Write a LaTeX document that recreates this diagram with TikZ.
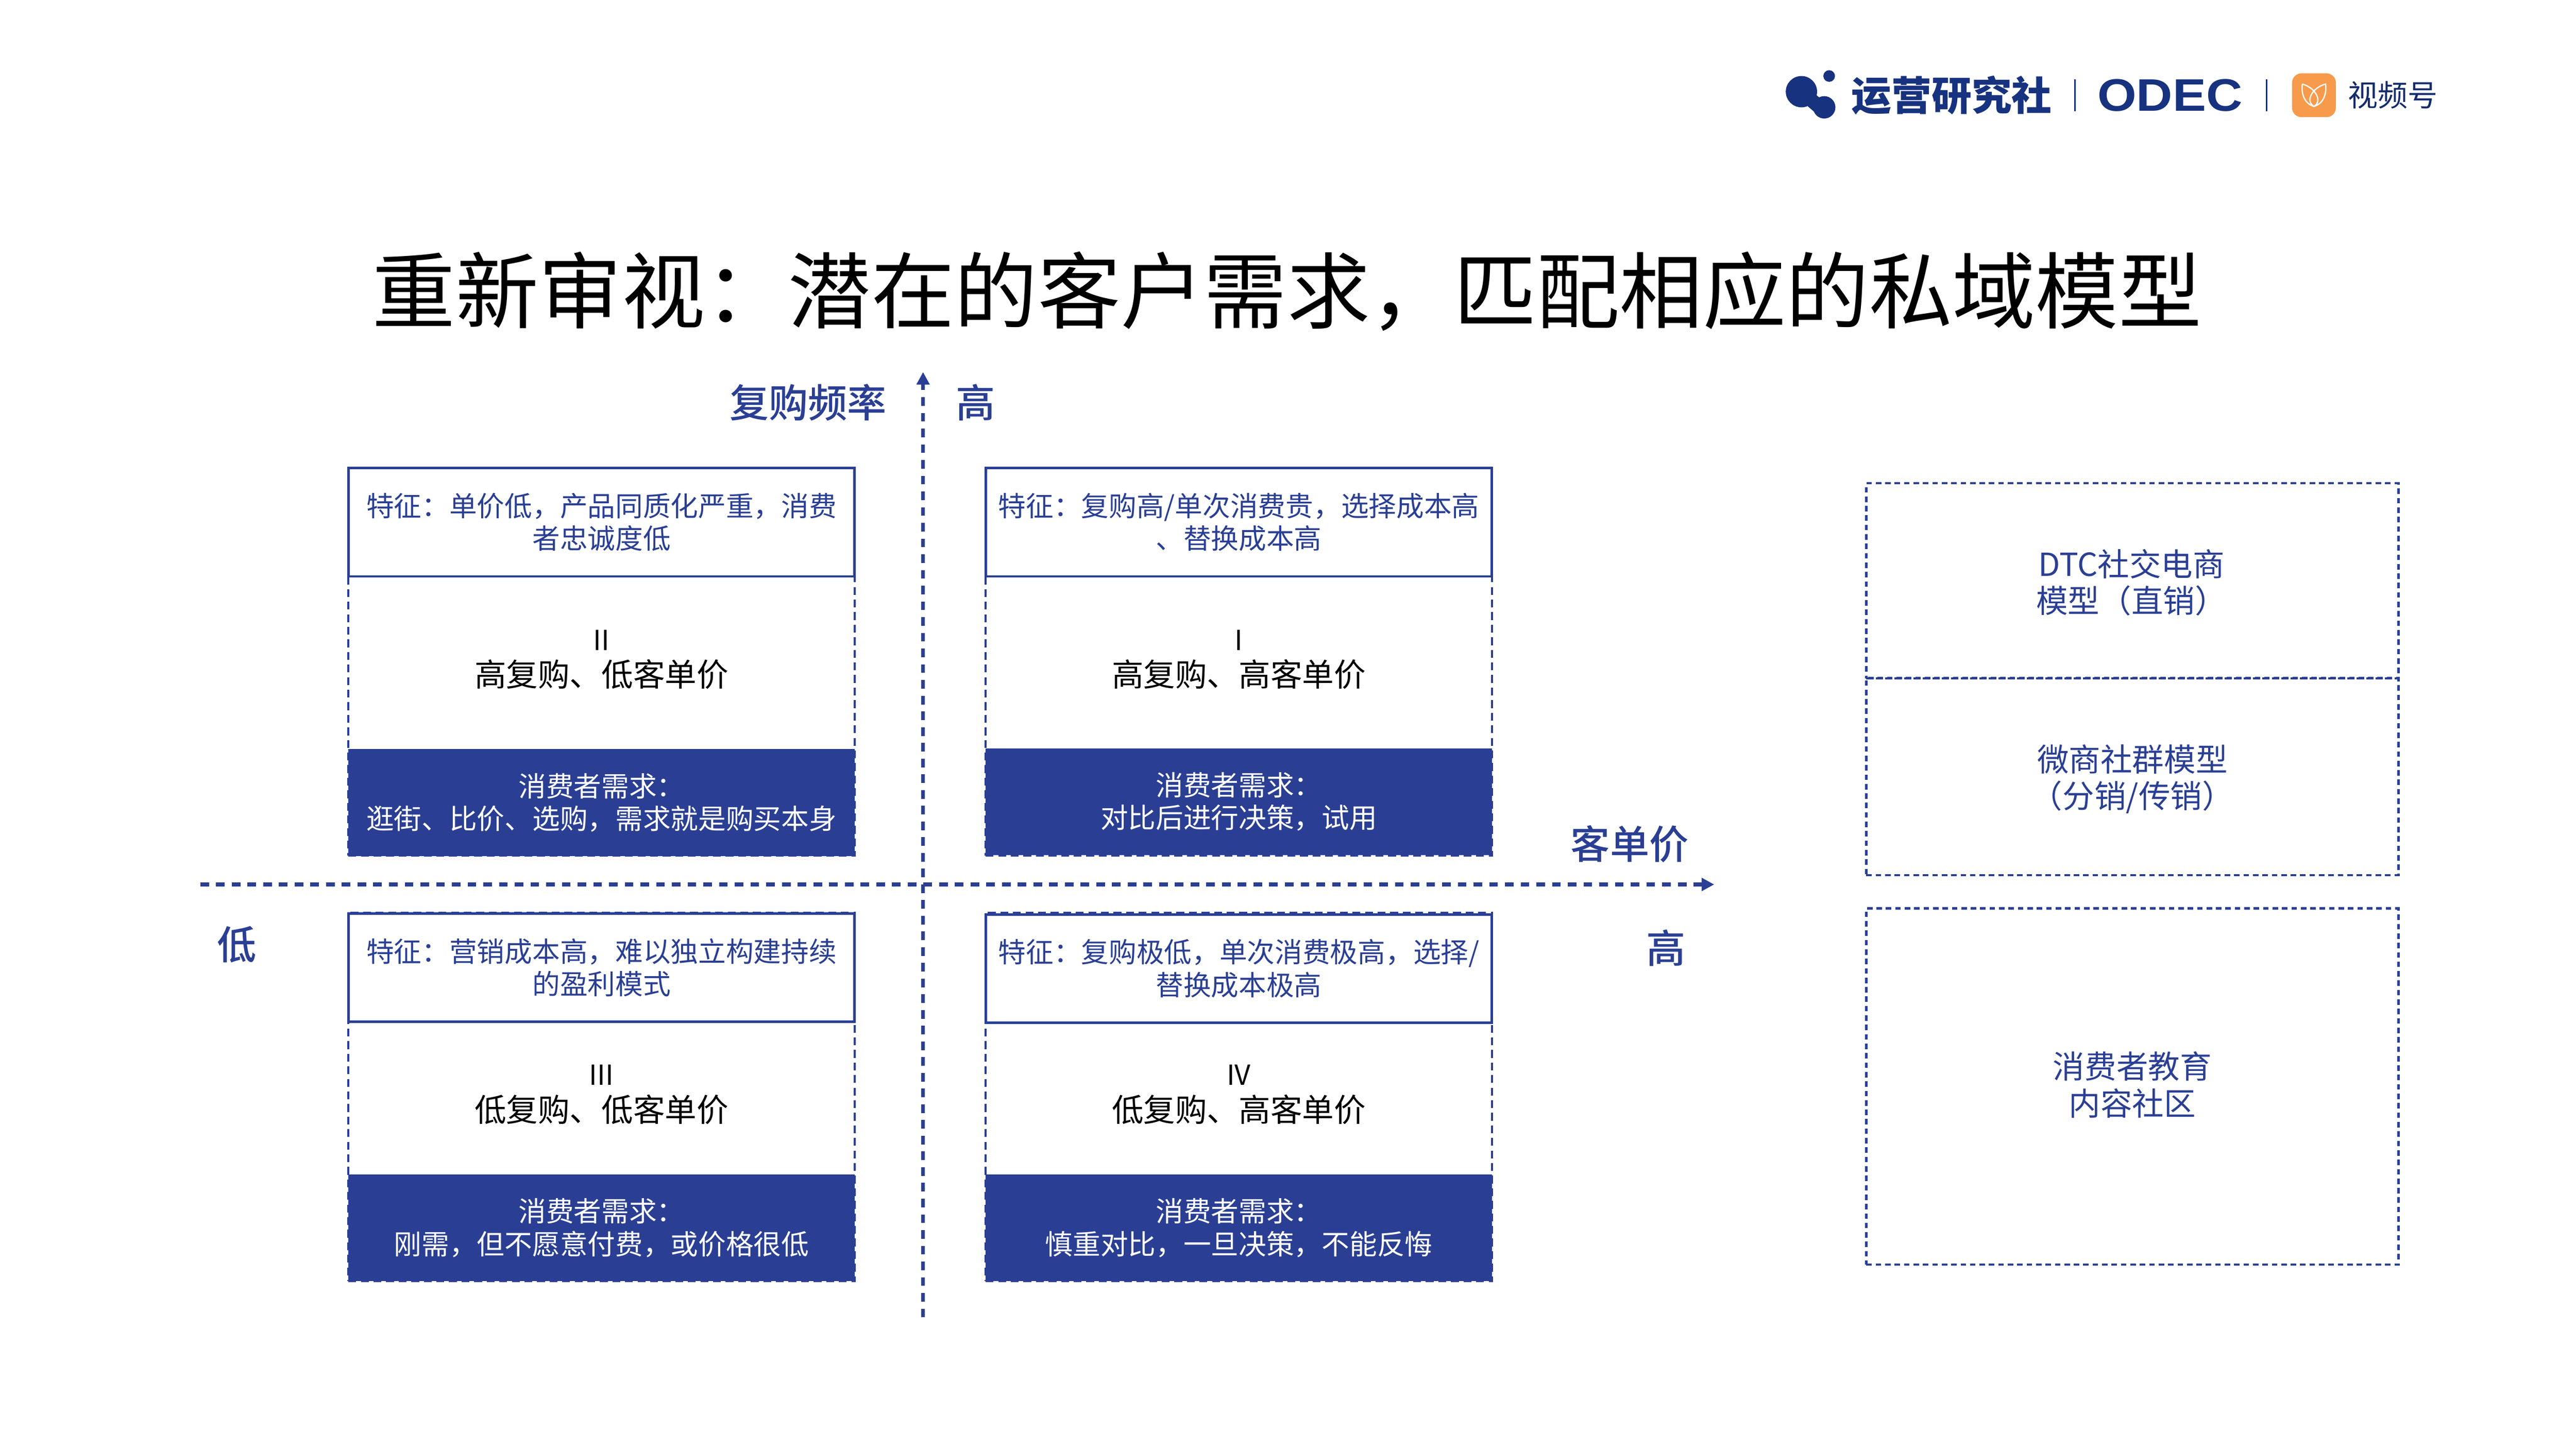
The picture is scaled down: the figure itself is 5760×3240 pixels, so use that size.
\documentclass[tikz,border=0pt]{standalone}
\usepackage{fontspec}
\setmainfont{Noto Sans CJK SC}
\newfontfamily\logofont{Liberation Sans}
\newfontfamily\midfont{Noto Sans CJK SC Medium}
\usetikzlibrary{arrows.meta}
\definecolor{navy}{HTML}{2A3F94}
\definecolor{logoblue}{HTML}{17327F}
\definecolor{logoorange}{HTML}{F79A4B}
\newcommand{\zc}{\char"FF0C\relax}
\newcommand{\zk}{\char"FF1A\relax}
\newcommand{\zl}{\char"FF08\relax}
\newcommand{\zr}{\char"FF09\relax}
\tikzset{
  axisline/.style={navy,line width=2.4pt,dash pattern=on 5.5pt off 4.5pt,-{Triangle[length=8pt,width=8pt]}},
  quadframe/.style={draw=navy,line width=1.4pt,dash pattern=on 5pt off 3pt,minimum width=1132*0.1mm},
  quadtop/.style={draw=navy,line width=1.6pt,fill=white,text=navy,align=center,minimum width=1132*0.1mm,minimum height=242*0.1mm,font=\fontsize{17.6}{20.8}\selectfont},
  quadmid/.style={align=center,text=black,font=\fontsize{20.2}{23}\selectfont},
  quaddark/.style={fill=navy,text=white,align=center,minimum width=1132*0.1mm,minimum height=239*0.1mm,font=\fontsize{17.6}{20.8}\selectfont},
  sidebox/.style={draw=navy,line width=1.4pt,dash pattern=on 3.5pt off 2.5pt,minimum width=1190*0.1mm},
  sidetext/.style={text=navy,align=center,font=\fontsize{20.2}{23.3}\selectfont},
  axislabel/.style={text=navy,font=\fontsize{25}{30}\midfont},
}
\newcommand{\romanline}[1]{{\fontsize{17.6}{23}\selectfont #1}}
\begin{document}
\begin{tikzpicture}[x=0.1mm,y=-0.1mm]
\useasboundingbox (0,0) rectangle (5760,3240);
\node[font=\fontsize{52.9}{60}\selectfont] (title) at (2878,652) {重新审视\zk 潜在的客户需求\zc 匹配相应的私域模型};
\coordinate (xstart) at (448,1978);
\coordinate (xend) at (3833,1978);
\coordinate (ystart) at (2064,2946);
\coordinate (yend) at (2064,832);
\draw[axisline] (xstart) -- (xend);
\draw[axisline] (ystart) -- (yend);
\node[axislabel] (ylabel) at (1807,900) {复购频率};
\node[axislabel] (yhigh) at (2182,900) {高};
\node[axislabel] (xlabel) at (3644,1888) {客单价};
\node[axislabel] (xhigh) at (3725,2120) {高};
\node[axislabel] (xlow) at (529,2112) {低};
\node[quadframe,minimum height=867*0.1mm] (frameII) at (1345,1480) {};
\node[quadtop] (topII) at (1345,1168) {特征\zk 单价低\zc 产品同质化严重\zc 消费\\者忠诚度低};
\node[quadmid] (midII) at (1345,1475) {\romanline{II}\\高复购、低客单价};
\node[quaddark] (darkII) at (1345,1795) {消费者需求\zk\\逛街、比价、选购\zc 需求就是购买本身};
\node[quadframe,minimum height=867*0.1mm] (frameI) at (2770,1480) {};
\node[quadtop] (topI) at (2770,1168) {特征\zk 复购高/单次消费贵\zc 选择成本高\\、替换成本高};
\node[quadmid] (midI) at (2770,1475) {\romanline{I}\\高复购、高客单价};
\node[quaddark] (darkI) at (2770,1793) {消费者需求\zk\\对比后进行决策\zc 试用};
\node[quadframe,minimum height=823*0.1mm] (frameIII) at (1345,2453) {};
\node[quadtop] (topIII) at (1345,2164) {特征\zk 营销成本高\zc 难以独立构建持续\\的盈利模式};
\node[quadmid] (midIII) at (1345,2448) {\romanline{III}\\低复购、低客单价};
\node[quaddark] (darkIII) at (1345,2746) {消费者需求\zk\\刚需\zc 但不愿意付费\zc 或价格很低};
\node[quadframe,minimum height=823*0.1mm] (frameIV) at (2770,2453) {};
\node[quadtop] (topIV) at (2770,2166) {特征\zk 复购极低\zc 单次消费极高\zc 选择/\\替换成本极高};
\node[quadmid] (midIV) at (2770,2448) {\romanline{IV}\\低复购、高客单价};
\node[quaddark] (darkIV) at (2770,2746) {消费者需求\zk\\慎重对比\zc 一旦决策\zc 不能反悔};
\node[sidebox,minimum height=437*0.1mm] (direct) at (4768,1299) {};
\node[sidetext] (directtext) at (4766,1303) {DTC社交电商\\模型\zl 直销\zr};
\node[sidebox,minimum height=441*0.1mm] (group) at (4768,1737) {};
\node[sidetext] (grouptext) at (4768,1742) {微商社群模型\\\zl 分销/传销\zr};
\node[sidebox,minimum height=797*0.1mm] (edu) at (4768,2430) {};
\node[sidetext] (edutext) at (4768,2426) {消费者教育\\内容社区};
\fill[logoblue] (4028,205) circle (35);
\fill[logoblue] (4090,170) circle (13);
\fill[logoblue] (4079,240) circle (25);
\draw[logoblue,line width=9pt] (4040,215) -- (4075,245);
\node[text=logoblue,font=\fontsize{25.5}{28}\selectfont\bfseries] (brand) at (4364,213) {运营研究社};
\draw[logoblue,line width=1pt] (4640,177) -- (4640,249);
\node[text=logoblue,font=\logofont\fontsize{29}{30}\selectfont\bfseries] (odec) at (4852,213) {\scalebox{1.1}[1]{ODEC}};
\draw[logoblue,line width=1pt] (5068,177) -- (5068,249);
\fill[logoorange,rounded corners=6pt] (5125,164) rectangle (5223,262);
\draw[white,line width=0.8pt] (5148,188) .. controls (5175,195) and (5195,225) .. (5174,238) .. controls (5153,225) and (5172,195) .. (5200,188) .. controls (5203,210) and (5195,232) .. (5174,238) .. controls (5153,232) and (5145,210) .. (5148,188);
\node[text=logoblue!85!black,font=\fontsize{19}{21}\selectfont] (channel) at (5350,213) {视频号};
\end{tikzpicture}
\end{document}
